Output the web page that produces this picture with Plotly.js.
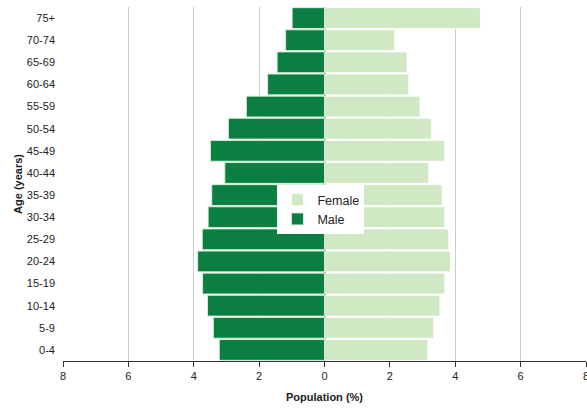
<!DOCTYPE html>
<html>
<head>
<meta charset="utf-8">
<script src="https://cdn.plot.ly/plotly-3.0.1.min.js"></script>
<style>html,body{margin:0;padding:0;background:#fff;}#chart{width:587px;height:408px;}</style>
</head>
<body>
<div id="chart"></div>
<script>
const ageGroups = ["0-4","5-9","10-14","15-19","20-24","25-29","30-34","35-39","40-44","45-49","50-54","55-59","60-64","65-69","70-74","75+"];
const femaleValues = [3.16,3.34,3.53,3.68,3.86,3.80,3.68,3.60,3.19,3.68,3.27,2.92,2.58,2.52,2.15,4.77];
const maleValues = [3.22,3.40,3.58,3.73,3.88,3.74,3.56,3.45,3.05,3.49,2.94,2.39,1.74,1.45,1.19,0.99];
const xTickVals = [-8,-6,-4,-2,0,2,4,6,8];
const xTickText = ["8","6","4","2","0","2","4","6","8"];

const femaleTrace = {
  type: "bar", orientation: "h", name: "Female",
  y: ageGroups, x: femaleValues,
  marker: {color: "#d1e8c5", line: {color: "rgba(255,255,255,0.8)", width: 1}},
  hoverinfo: "skip"
};
const maleTrace = {
  type: "bar", orientation: "h", name: "Male",
  y: ageGroups, x: maleValues.map(v => -v),
  marker: {color: "#0a7f41", line: {color: "rgba(220,240,220,0.9)", width: 1}},
  hoverinfo: "skip"
};

const layout = {
  width: 587, height: 408,
  margin: {l: 63, r: 1, t: 7, b: 47},
  paper_bgcolor: "#fff", plot_bgcolor: "#fff",
  font: {family: "Liberation Sans, Arial, sans-serif", size: 11, color: "#222"},
  barmode: "relative",
  bargap: 0.06,
  showlegend: true,
  legend: {
    x: 0.41, y: 0.497, xanchor: "left", yanchor: "top",
    bgcolor: "#fff", borderwidth: 0,
    font: {size: 12.5, color: "#222"},
    traceorder: "normal",
    itemwidth: 30,
    tracegroupgap: 0
  },
  xaxis: {
    range: [-8, 8],
    tickvals: xTickVals, ticktext: xTickText,
    ticklabeloverflow: "allow",
    showgrid: true, gridcolor: "#cccccc", gridwidth: 1,
    zeroline: true, zerolinecolor: "#666666", zerolinewidth: 2,
    showline: true, linecolor: "#333", linewidth: 1,
    ticks: "outside", ticklen: 5, tickcolor: "#333",
    tickfont: {size: 11, color: "#222"},
    title: {text: "<b>Population (%)</b>", font: {size: 11, color: "#222"}, standoff: 12}
  },
  yaxis: {
    type: "category",
    categoryorder: "array", categoryarray: ageGroups,
    showgrid: false, zeroline: false,
    ticks: "", ticklen: 0,
    ticklabelstandoff: 7,
    tickfont: {size: 11, color: "#222"},
    title: {text: "<b>Age (years)</b>", font: {size: 11, color: "#222"}, standoff: 2},
    automargin: false
  }
};

Plotly.newPlot("chart", [femaleTrace, maleTrace], layout, {displayModeBar: false, staticPlot: true});
</script>
</body>
</html>
